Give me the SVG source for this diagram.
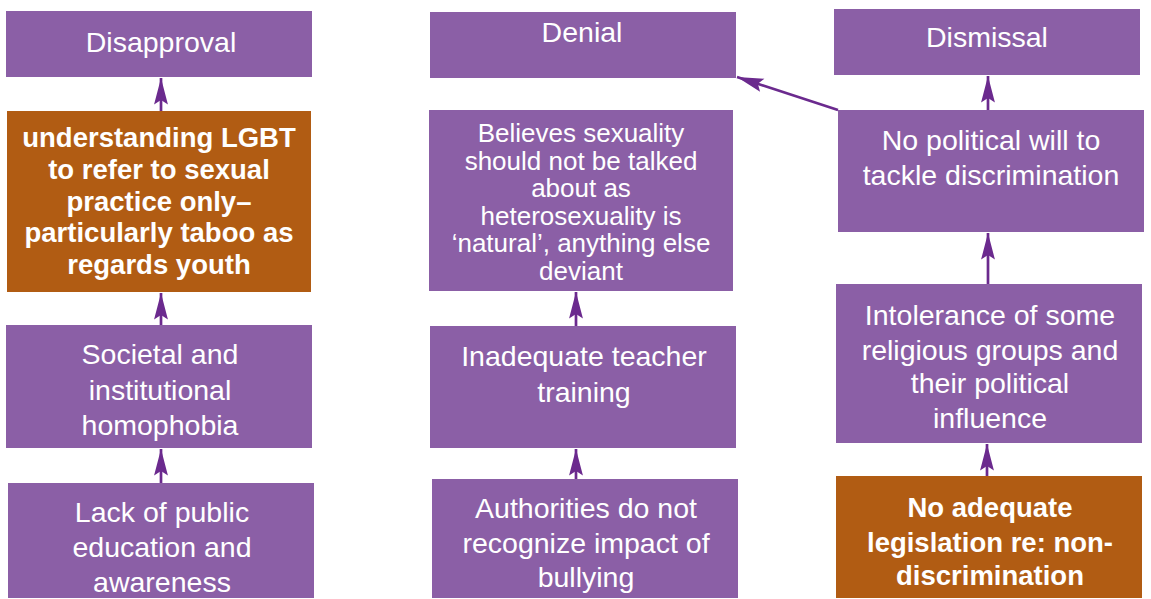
<svg xmlns="http://www.w3.org/2000/svg" width="1151" height="599" viewBox="0 0 1151 599">
<style>
.p{fill:#8B5FA6}
.o{fill:#B15C13}
.t{font-family:"Liberation Sans",Arial,sans-serif;font-size:28.5px;fill:#ffffff;text-anchor:middle}
.s{font-size:26px}
.b{font-family:"Liberation Sans",Arial,sans-serif;font-size:27.5px;font-weight:bold;fill:#ffffff;text-anchor:middle}
.c{stroke:#6B2A8E;stroke-width:2.7;fill:none;marker-end:url(#ah)}
</style>
<defs>
<marker id="ah" markerUnits="userSpaceOnUse" markerWidth="30" markerHeight="20" viewBox="-24 -8 26 16" refX="0" refY="0" orient="auto">
<path d="M0,0 L-23,-6 L-19,0 L-23,6 Z" fill="#6B2A8E"/>
</marker>
</defs>
<rect width="1151" height="599" fill="#ffffff"/>
<g id="connectors">
<line class="c" x1="161" y1="111" x2="161" y2="78"/>
<line class="c" x1="161" y1="325" x2="161" y2="293"/>
<line class="c" x1="161" y1="483" x2="161" y2="449"/>
<line class="c" x1="576" y1="326" x2="576" y2="292"/>
<line class="c" x1="576" y1="479" x2="576" y2="449"/>
<line class="c" x1="988" y1="110" x2="988" y2="76"/>
<line class="c" x1="988" y1="284" x2="988" y2="233"/>
<line class="c" x1="987" y1="476" x2="987" y2="444"/>
<line class="c" x1="838" y1="110" x2="737" y2="77"/>
</g>
<g id="disapproval">
<rect class="p" x="6" y="11" width="306" height="66"/>
<text class="t" x="161" y="52">Disapproval</text>
</g>
<g id="understanding">
<rect class="o" x="7" y="111" width="304" height="181"/>
<text class="b" x="159" y="147">understanding LGBT</text>
<text class="b" x="159" y="179">to refer to sexual</text>
<text class="b" x="159" y="211">practice only–</text>
<text class="b" x="159" y="242">particularly taboo as</text>
<text class="b" x="159" y="274">regards youth</text>
</g>
<g id="societal">
<rect class="p" x="6" y="325" width="306" height="123"/>
<text class="t" x="160" y="364">Societal and</text>
<text class="t" x="160" y="400">institutional</text>
<text class="t" x="160" y="435">homophobia</text>
</g>
<g id="lack">
<rect class="p" x="8" y="483" width="306" height="115"/>
<text class="t" x="162" y="522">Lack of public</text>
<text class="t" x="162" y="557">education and</text>
<text class="t" x="162" y="592">awareness</text>
</g>
<g id="denial">
<rect class="p" x="430" y="12" width="306" height="66"/>
<text class="t" x="582" y="42">Denial</text>
</g>
<g id="believes">
<rect class="p" x="429" y="110" width="304" height="181"/>
<text class="t s" x="581" y="142">Believes sexuality</text>
<text class="t s" x="581" y="169.5">should not be talked</text>
<text class="t s" x="581" y="197">about as</text>
<text class="t s" x="581" y="224.5">heterosexuality is</text>
<text class="t s" x="581" y="252">‘natural’, anything else</text>
<text class="t s" x="581" y="279.5">deviant</text>
</g>
<g id="inadequate">
<rect class="p" x="430" y="326" width="306" height="122"/>
<text class="t" x="584" y="366">Inadequate teacher</text>
<text class="t" x="584" y="402">training</text>
</g>
<g id="authorities">
<rect class="p" x="432" y="479" width="306" height="119"/>
<text class="t" x="586" y="518">Authorities do not</text>
<text class="t" x="586" y="553">recognize impact of</text>
<text class="t" x="586" y="587">bullying</text>
</g>
<g id="dismissal">
<rect class="p" x="834" y="9" width="306" height="66"/>
<text class="t" x="987" y="47">Dismissal</text>
</g>
<g id="political">
<rect class="p" x="838" y="110" width="306" height="122"/>
<text class="t" x="991" y="150">No political will to</text>
<text class="t" x="991" y="185">tackle discrimination</text>
</g>
<g id="intolerance">
<rect class="p" x="836" y="284" width="306" height="159"/>
<text class="t" x="990" y="325">Intolerance of some</text>
<text class="t" x="990" y="360">religious groups and</text>
<text class="t" x="990" y="393">their political</text>
<text class="t" x="990" y="428">influence</text>
</g>
<g id="legislation">
<rect class="o" x="836" y="476" width="306" height="122"/>
<text class="b" x="990" y="517">No adequate</text>
<text class="b" x="990" y="552">legislation re: non-</text>
<text class="b" x="990" y="585">discrimination</text>
</g>
</svg>
